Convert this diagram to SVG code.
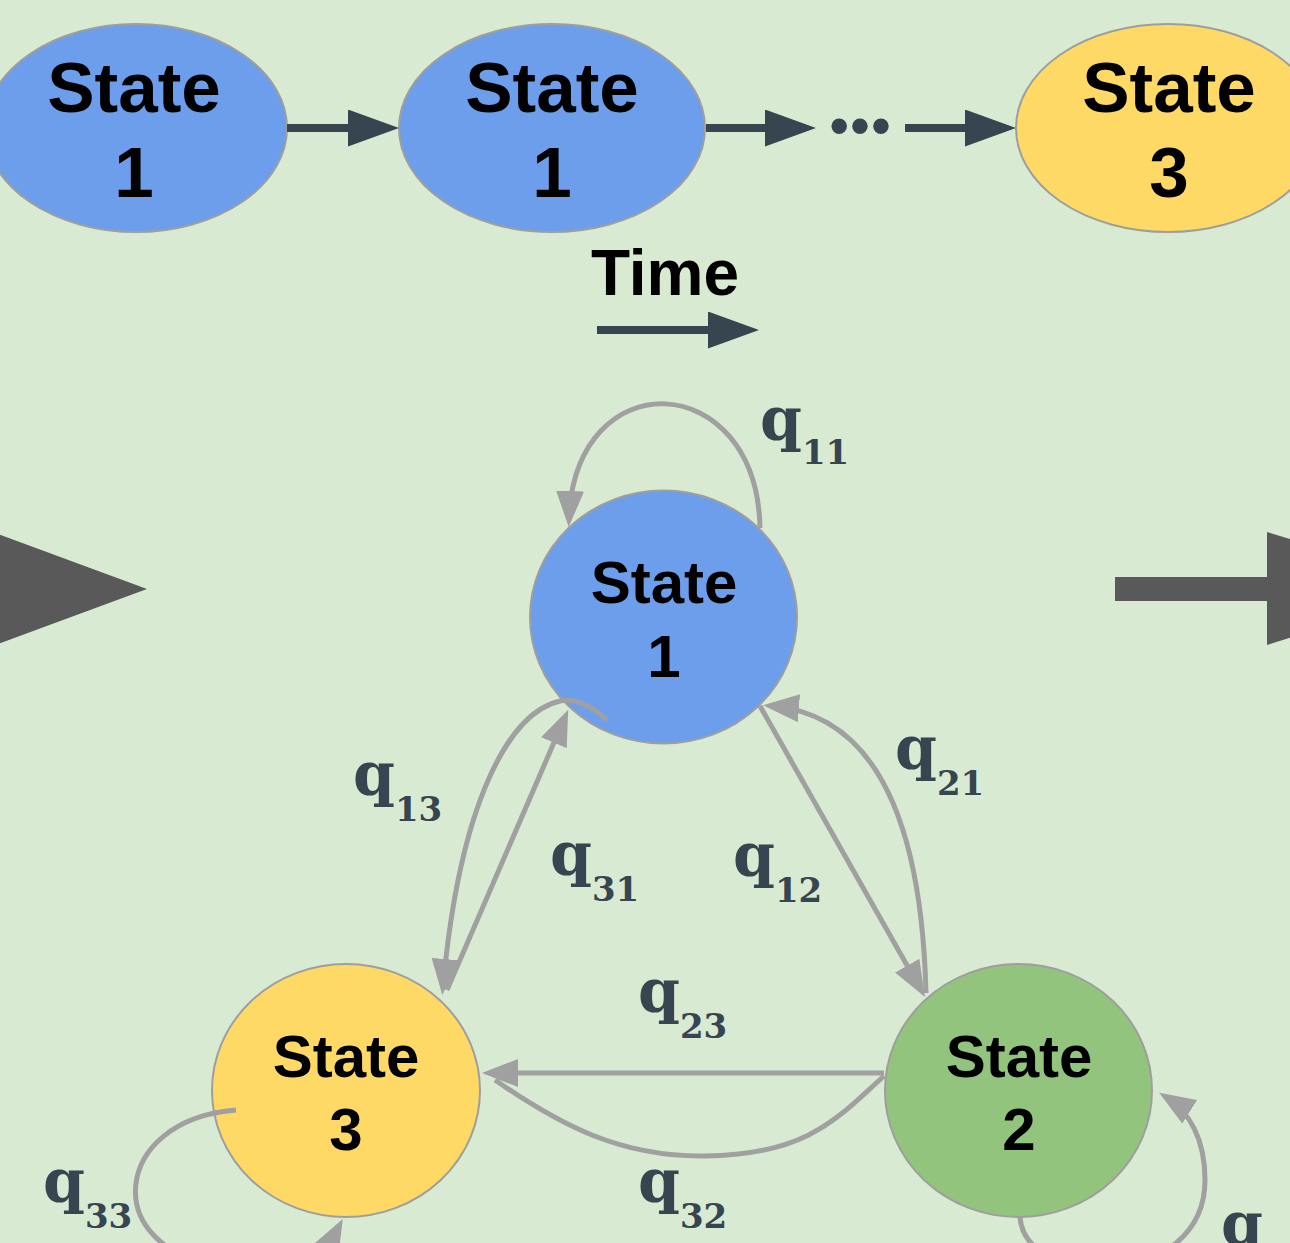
<svg xmlns="http://www.w3.org/2000/svg" width="1290" height="1243" viewBox="0 0 1290 1243">
  <style>
    .bg { fill: #d9ead3; }
    .node { stroke: #9e9e9e; stroke-width: 2; }
    .blue { fill: #6d9eeb; }
    .yellow { fill: #ffd966; }
    .green { fill: #93c47d; }
    .lbl { font-family: "Liberation Sans", Arial, sans-serif; font-weight: bold; fill: #000; text-anchor: middle; }
    .big { font-size: 71px; }
    .mid { font-size: 60px; }
    .seq { stroke: #36454f; stroke-width: 8; fill: none; marker-end: url(#headDark); }
    .edge { stroke: #a0a0a0; stroke-width: 5; fill: none; }
    .arr { marker-end: url(#headGray); }
    .q { font-family: "DejaVu Serif", "Liberation Serif", serif; font-weight: bold; font-size: 60px; fill: #36454f; }
    .sub { font-size: 34px; }
    .block { fill: #595959; }
  </style>
  <defs>
    <marker id="headDark" viewBox="0 0 51 37" refX="0" refY="18.5" markerWidth="51" markerHeight="37" markerUnits="userSpaceOnUse" orient="auto">
      <path d="M0,0 L51,18.5 L0,37 z" fill="#36454f"/>
    </marker>
    <marker id="headGray" viewBox="0 0 36 28" refX="28" refY="14" markerWidth="36" markerHeight="28" markerUnits="userSpaceOnUse" orient="auto">
      <path d="M0,0 L36,14 L0,28 z" fill="#a0a0a0"/>
    </marker>
  </defs>

  <rect class="bg" x="0" y="0" width="1290" height="1243"/>

  <!-- sequence over time -->
  <g id="seq-state1-a">
    <ellipse class="node blue" cx="136" cy="128" rx="151" ry="104"/>
    <text class="lbl big" x="134" y="112">State</text>
    <text class="lbl big" x="134" y="197">1</text>
  </g>
  <g id="seq-state1-b">
    <ellipse class="node blue" cx="552" cy="128" rx="153" ry="104"/>
    <text class="lbl big" x="552" y="112">State</text>
    <text class="lbl big" x="552" y="197">1</text>
  </g>
  <g id="seq-state3">
    <ellipse class="node yellow" cx="1168" cy="128" rx="152" ry="104"/>
    <text class="lbl big" x="1169" y="112">State</text>
    <text class="lbl big" x="1169" y="197">3</text>
  </g>
  <g id="seq-ellipsis">
    <text x="861" y="144" font-family="Liberation Sans, Arial, sans-serif" font-weight="bold" font-size="54" fill="#36454f" text-anchor="middle" letter-spacing="2">•••</text>
  </g>
  <g id="time">
    <text class="lbl" x="665" y="295" font-size="64">Time</text>
  </g>

  <!-- side arrows -->
  <g id="arrow-in">
    <polygon class="block" points="-10,531 147,589 -10,647"/>
  </g>
  <g id="arrow-out">
    <rect class="block" x="1115" y="577" width="155" height="24"/>
    <polygon class="block" points="1267,532 1450,588 1267,645"/>
  </g>

  <!-- transition graph nodes -->
  <g id="state1">
    <ellipse class="node blue" cx="663.5" cy="617" rx="133.5" ry="126.5"/>
    <text class="lbl mid" x="664" y="603">State</text>
    <text class="lbl mid" x="664" y="677">1</text>
  </g>
  <g id="state3">
    <ellipse class="node yellow" cx="346" cy="1090.5" rx="134" ry="126.5"/>
    <text class="lbl mid" x="346" y="1077">State</text>
    <text class="lbl mid" x="346" y="1150">3</text>
  </g>
  <g id="state2">
    <ellipse class="node green" cx="1018.5" cy="1090.5" rx="133.5" ry="126.5"/>
    <text class="lbl mid" x="1019" y="1077">State</text>
    <text class="lbl mid" x="1019" y="1150">2</text>
  </g>

  <!-- connectors -->
  <g id="connectors">
    <line class="seq" x1="287" y1="128" x2="348" y2="128"/>
    <line class="seq" x1="706" y1="128" x2="765" y2="128"/>
    <line class="seq" x1="905" y1="128" x2="965" y2="128"/>
    <line class="seq" x1="597" y1="330" x2="708" y2="330"/>

    <path class="edge arr" d="M 760 528 C 757 368, 575 360, 569 519"/>
    <path class="edge arr" d="M 607 720 C 590 705, 575 698, 560 701 C 510 712, 460 800, 443 987"/>
    <path class="edge arr" d="M 447 990 L 565 717"/>
    <path class="edge arr" d="M 760 706 L 921 990"/>
    <path class="edge arr" d="M 926 993 C 922 840, 885 715, 771 706"/>
    <path class="edge arr" d="M 884 1073 L 490 1073"/>
    <path class="edge" d="M 884 1076 C 840 1115, 810 1155, 705 1156 C 620 1157, 560 1125, 495 1080"/>
    <path class="edge arr" d="M 236 1110 C 110 1120, 100 1250, 220 1265 C 280 1272, 320 1262, 339 1226"/>
    <path class="edge arr" d="M 1020 1217 C 1025 1290, 1205 1290, 1205 1180 C 1205 1140, 1190 1112, 1166 1097"/>
  </g>

  <!-- rate labels -->
  <g id="labels">
    <text class="q" x="760" y="440">q<tspan class="sub" dy="24">11</tspan></text>
    <text class="q" x="353" y="795">q<tspan class="sub" dy="26">13</tspan></text>
    <text class="q" x="550" y="875">q<tspan class="sub" dy="26">31</tspan></text>
    <text class="q" x="733" y="876">q<tspan class="sub" dy="26">12</tspan></text>
    <text class="q" x="895" y="769">q<tspan class="sub" dy="26">21</tspan></text>
    <text class="q" x="638" y="1012">q<tspan class="sub" dy="26">23</tspan></text>
    <text class="q" x="638" y="1202">q<tspan class="sub" dy="26">32</tspan></text>
    <text class="q" x="43" y="1202">q<tspan class="sub" dy="26">33</tspan></text>
    <text class="q" x="1221" y="1245">q<tspan class="sub" dy="26">22</tspan></text>
  </g>
</svg>
